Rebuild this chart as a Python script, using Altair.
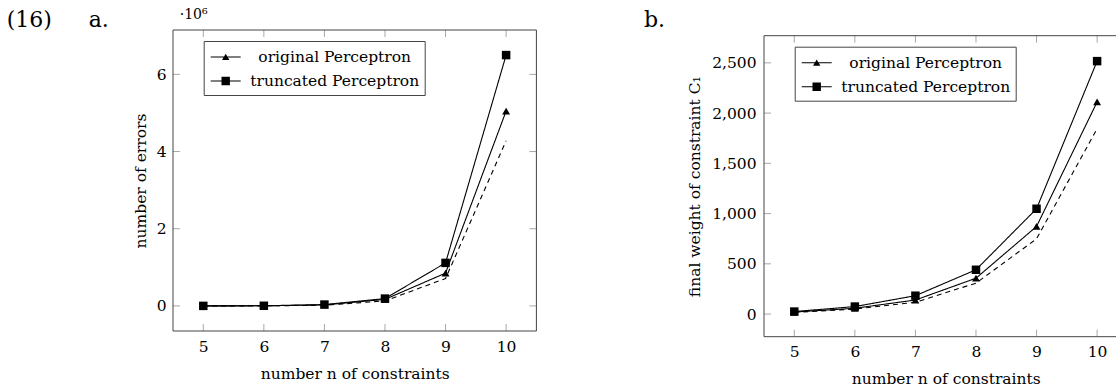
import altair as alt
import pandas as pd

# ---------------- data ----------------
n_values = [5, 6, 7, 8, 9, 10]
series_names = ["original Perceptron", "truncated Perceptron", "reference curve"]

errors_original = [500, 3000, 25000, 170000, 850000, 5050000]
errors_truncated = [800, 4000, 35000, 190000, 1115000, 6500000]
errors_reference = [300, 2000, 18000, 130000, 710000, 4280000]

weight_original = [20, 58, 140, 357, 872, 2111]
weight_truncated = [25, 75, 183, 441, 1048, 2517]
weight_reference = [17, 50, 118, 308, 749, 1845]

x_ticks = [5, 6, 7, 8, 9, 10]
left_y_ticks = [0, 2000000, 4000000, 6000000]
right_y_ticks = [0, 500, 1000, 1500, 2000, 2500]


def long_frame(a, b, c):
    rows = []
    for name, vals in zip(series_names, [a, b, c]):
        for n, v in zip(n_values, vals):
            rows.append({"n": n, "value": v, "series": name})
    return pd.DataFrame(rows)


df_left = long_frame(errors_original, errors_truncated, errors_reference)
df_right = long_frame(weight_original, weight_truncated, weight_reference)

# ---------------- styling ----------------
FONT = "DejaVu Serif"
FS = 15.5
FRAME = "#444444"
TICK = "#a8a8a8"
TICK_LEN = 7
W_FULL = 363.4
H = 301

# legend glyphs: a thin bar (line) with the marker on it, all filled
PATH_TRI = ("M-0.9,-0.05H2.1V0.05H-0.9Z"
            "M0.235,0.31L0.6,-0.32L0.965,0.31Z")
PATH_SQ = ("M-0.9,-0.05H2.1V0.05H-0.9Z"
           "M0.18,-0.42H1.02V0.42H0.18Z")

one = pd.DataFrame({"k": [0]})


def panel(df, y_dom, y_ticks, y_fmt, y_label_expr, y_title, y_title_x, y_lab_pad,
          width, x_max, notes, anchor_x, top, right_side):
    # top: empty band (px) above the frame inside the view
    HT = H + top
    xs = alt.Scale(domain=[4.5, x_max], nice=False, zero=False)
    ys = alt.Scale(domain=y_dom, nice=False, zero=False, range=[HT, top])
    xaxis = alt.Axis(values=x_ticks, format="d", ticks=False, domain=False, grid=False,
                     labelPadding=8, title="number n of constraints",
                     titleX=W_FULL / 2, titleY=42, titleAlign="center",
                     titleBaseline="middle")
    yargs = dict(values=y_ticks, ticks=False, domain=False, grid=False,
                 labelPadding=y_lab_pad, title=y_title, titleX=y_title_x,
                 titleY=top + H / 2, titleAngle=270, titleAlign="center",
                 titleBaseline="middle")
    if y_label_expr:
        yargs["labelExpr"] = y_label_expr
    else:
        yargs["format"] = y_fmt
    yaxis = alt.Axis(**yargs)
    X = alt.X("n:Q", scale=xs, axis=xaxis)
    Y = alt.Y("value:Q", scale=ys, axis=yaxis)

    lines = alt.Chart(df).mark_line(color="black", strokeWidth=1.1, clip=True).encode(
        x=X, y=Y, detail="series:N",
        strokeDash=alt.StrokeDash("series:N",
                                  scale=alt.Scale(domain=series_names,
                                                  range=[[1, 0], [1, 0], [5, 4]]),
                                  legend=None))
    points = alt.Chart(df).transform_filter(
        alt.FieldOneOfPredicate(field="series", oneOf=series_names[:2])
    ).mark_point(filled=True, color="black", opacity=1, strokeWidth=0).encode(
        x=X, y=Y,
        shape=alt.Shape("series:N", scale=alt.Scale(domain=series_names[:2],
                                                    range=["triangle-up", "square"]),
                        legend=None),
        size=alt.Size("series:N", scale=alt.Scale(domain=series_names[:2], range=[62, 72]),
                      legend=None))
    legend_layer = alt.Chart(df).transform_filter("false").mark_point(
        filled=True, color="black", opacity=1).encode(
        shape=alt.Shape("series:N",
                        scale=alt.Scale(domain=series_names[:2], range=[PATH_TRI, PATH_SQ]),
                        legend=alt.Legend(title=None, orient="none", legendX=30.7,
                                          legendY=top + 11,
                                          direction="vertical", strokeColor=FRAME,
                                          fillColor="white", padding=5, cornerRadius=0,
                                          symbolSize=400, symbolFillColor="black",
                                          symbolOpacity=1, labelFont=FONT, labelFontSize=FS,
                                          labelColor="black", labelAlign="center",
                                          labelOffset=104, rowPadding=4, labelLimit=0)))

    xt = pd.DataFrame({"n": x_ticks})
    yt = pd.DataFrame({"value": y_ticks})
    tick_b = alt.Chart(xt).mark_rule(color=TICK, strokeWidth=1).encode(
        x=X, y=alt.value(HT), y2=alt.value(HT - TICK_LEN))
    tick_t = alt.Chart(xt).mark_rule(color=TICK, strokeWidth=1).encode(
        x=X, y=alt.value(top), y2=alt.value(top + TICK_LEN))
    tick_l = alt.Chart(yt).mark_rule(color=TICK, strokeWidth=1).encode(
        y=Y, x=alt.value(0), x2=alt.value(TICK_LEN))
    layers = [tick_b, tick_t, tick_l]
    if right_side:
        layers.append(alt.Chart(yt).mark_rule(color=TICK, strokeWidth=1).encode(
            y=Y, x=alt.value(width - TICK_LEN), x2=alt.value(width)))

    fr = [
        alt.Chart(one).mark_rule(color=FRAME, strokeWidth=1).encode(
            x=alt.value(0), x2=alt.value(width), y=alt.value(top)),
        alt.Chart(one).mark_rule(color=FRAME, strokeWidth=1).encode(
            x=alt.value(0), x2=alt.value(width), y=alt.value(HT)),
        alt.Chart(one).mark_rule(color=FRAME, strokeWidth=1).encode(
            x=alt.value(0), y=alt.value(top), y2=alt.value(HT)),
    ]
    if right_side:
        fr.append(alt.Chart(one).mark_rule(color=FRAME, strokeWidth=1).encode(
            x=alt.value(width), y=alt.value(top), y2=alt.value(HT)))

    texts = []
    for txt, tx, ty, size in notes:
        texts.append(alt.Chart(one).mark_text(text=txt, font=FONT, fontSize=size,
                                              align="left", baseline="alphabetic",
                                              color="black").encode(
            x=alt.value(tx), y=alt.value(ty)))
    anchor = alt.Chart(one).mark_rule(opacity=0, strokeWidth=1).encode(
        x=alt.value(anchor_x), y=alt.value(-29.5), y2=alt.value(-28.5))

    return alt.layer(lines, points, legend_layer, *layers, *fr, *texts, anchor).resolve_scale(
        shape="independent", size="independent").properties(width=width, height=HT)


left = panel(df_left, [-650000, 7150000], left_y_ticks, None,
             "format(datum.value / 1000000, 'd')", "number of errors", -32.3, 7,
             W_FULL, 10.5,
             [("(16)", -166.3, -3, 22), ("a.", -84.3, -3, 22), ("·10⁶", 6.7, -11, 14)],
             -172.8, 0, True)

right_w = 352
right = panel(df_right, [-225, 2770], right_y_ticks, ",d", None,
              "final weight of constraint C₁", -69.5, 8,
              right_w, 4.5 + right_w / (W_FULL / 6),
              [("b.", -120, -3, 22)],
              -226.3, 5.7, False)

chart = alt.hconcat(left, right, spacing=0).properties(
    padding={"left": 0, "top": 0, "right": 0, "bottom": 0}
).configure_view(stroke=None).configure_axis(
    labelFont=FONT, labelFontSize=FS, labelColor="black",
    titleFont=FONT, titleFontSize=FS, titleColor="black", titleFontWeight="normal"
)

chart.save("out.html", embed_options={"renderer": "svg", "actions": False})
